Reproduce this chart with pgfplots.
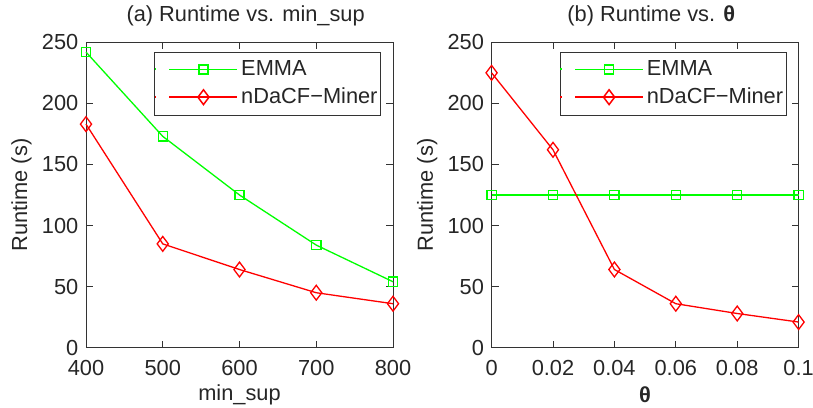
\documentclass[border=0pt]{standalone}
\usepackage{fontspec}
\setmainfont{Liberation Sans}
\usepackage{pgfplots}
\pgfplotsset{compat=1.18}
\definecolor{mgreen}{rgb}{0,1,0}
\definecolor{mred}{rgb}{1,0,0}
\newcommand{\ff}{\fontsize{10.9}{12.5}\selectfont}
\begin{document}
\ff
\begin{tikzpicture}[x=1pt,y=1pt]
\useasboundingbox (0,0) rectangle (406.5,203.5);
\pgfplotsset{
 myax/.style={
  scale only axis, width=153.5pt, height=152.7pt,
  anchor=south west, clip=false,
  ymin=0, ymax=250, ytick={0,50,...,250},
  tick align=inside,
  ticklabel style={font=\ff, text=black!85},
  xticklabel style={yshift=-2.3pt},
  /pgf/number format/assume math mode=true,
  axis line style={line width=0.5pt, black!80},
  tick style={black!80, line width=0.5pt}, major tick length=3.5pt,
  ylabel={Runtime (s)},
  ylabel style={at={(axis description cs:-0.21,0.5)}, anchor=center, font=\ff, text=black!85},
  xlabel style={at={(axis description cs:0.5,-0.153)}, anchor=center, font=\ff, text=black!85},
  title style={at={(axis description cs:0.52,1)}, anchor=south, yshift=2.1pt, inner sep=0pt, font=\ff, text=black!85},
  legend style={at={(0.961,0.967)}, anchor=north east, draw=black!80, line width=0.5pt,
    font=\ff, inner xsep=0pt, inner ysep=2.5pt, row sep=1.5pt,
    nodes={inner xsep=1.5pt, inner ysep=1.5pt, text=black!85}},
  legend cell align=left,
  legend image code/.code={\path (0pt,0pt) -- (0pt,1pt); \draw[line width=0.75pt, mark repeat=2, mark phase=2] plot coordinates {(7pt,0.25pt) (24pt,0.25pt) (41pt,0.25pt)};},
  emma/.style={color=mgreen, line width=0.65pt, mark=square, mark size=2.3pt, mark options={solid, fill=none}},
  ndacf/.style={color=mred, line width=0.65pt, mark=diamond, mark size=3.7pt, mark options={solid, fill=none}},
 }
}
\begin{axis}[myax, at={(43pt,29.65pt)},
  xmin=400, xmax=800, xtick={400,500,600,700,800},
  xlabel={min\_sup}, title={(a) Runtime vs. min\_sup}]
\addplot[emma] coordinates {(400,242) (500,173) (600,125) (700,84) (800,54)};
\addlegendentry{EMMA}
\addplot[ndacf] coordinates {(400,183) (500,85) (600,64) (700,45) (800,36)};
\addlegendentry{nDaCF−Miner}
\end{axis}
\begin{axis}[myax, at={(245.8pt,29.65pt)},
  xmin=0, xmax=0.1, xtick={0,0.02,0.04,0.06,0.08,0.1},
  xticklabels={0,0.02,0.04,0.06,0.08,0.1},
  xlabel={\textbf{θ}}, title={(b) Runtime vs. \textbf{θ}}]
\addplot[emma] coordinates {(0,125) (0.02,125) (0.04,125) (0.06,125) (0.08,125) (0.1,125)};
\addlegendentry{EMMA}
\addplot[ndacf] coordinates {(0,225) (0.02,162) (0.04,64) (0.06,36) (0.08,28) (0.1,21)};
\addlegendentry{nDaCF−Miner}
\end{axis}
\end{tikzpicture}
\end{document}
